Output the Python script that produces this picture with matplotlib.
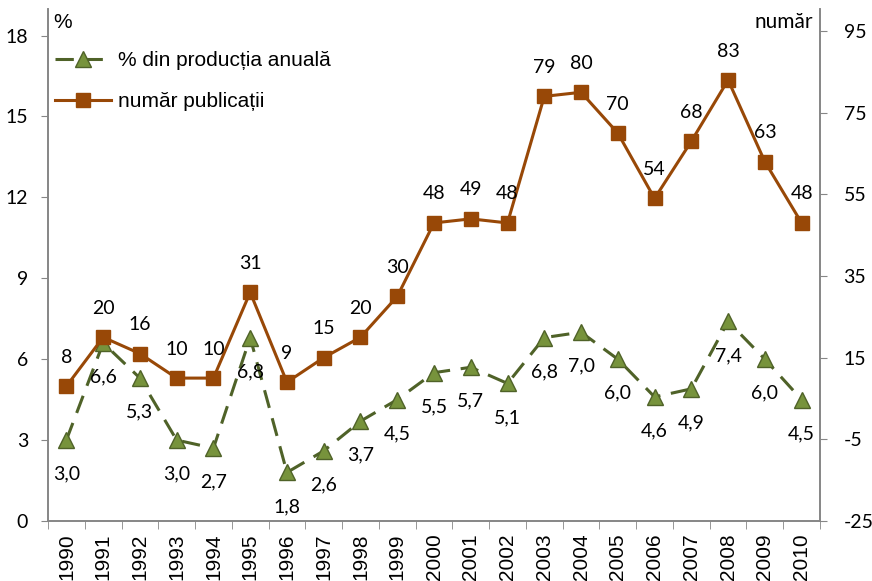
import matplotlib
matplotlib.use("Agg")
import matplotlib.pyplot as plt
from matplotlib.ticker import FixedLocator

ani = [str(a) for a in range(1990, 2011)]
procent = [3.0, 6.6, 5.3, 3.0, 2.7, 6.8, 1.8, 2.6, 3.7, 4.5, 5.5,
           5.7, 5.1, 6.8, 7.0, 6.0, 4.6, 4.9, 7.4, 6.0, 4.5]
publicatii = [8, 20, 16, 10, 10, 31, 9, 15, 20, 30, 48,
              49, 48, 79, 80, 70, 54, 68, 83, 63, 48]

plt.rcParams['axes.unicode_minus'] = False
font_num = ['Lato', 'DejaVu Sans']
font_txt = ['Liberation Sans', 'DejaVu Sans']
gri = '#868686'
verde_linie = '#4F6228'
verde = '#77933C'
maro = '#984807'

fig = plt.figure(figsize=(8.72, 5.81), dpi=100)
ax = fig.add_axes([48/872, 1-521/581, 772/872, 512/581])
ax2 = ax.twinx()

x = list(range(len(ani)))

l1, = ax.plot(x, procent, color=verde_linie, lw=2.2, dashes=(6, 3.5),
              marker='^', ms=11, mfc=verde, mec=verde_linie, mew=1,
              label='% din producția anuală')
l2, = ax2.plot(x, publicatii, color=maro, lw=2.2, marker='s', ms=10,
               mfc=maro, mec=maro, label='număr publicații')

for xi, v in zip(x, procent):
    ax.annotate(f"{v:.1f}".replace('.', ','), (xi, v), xytext=(0, -34),
                textcoords='offset pixels', ha='center', va='center',
                fontsize=14, family=font_num)
for xi, v in zip(x, publicatii):
    ax2.annotate(str(v), (xi, v), xytext=(0, 29),
                 textcoords='offset pixels', ha='center', va='center',
                 fontsize=14, family=font_num)

ax.set_xlim(-0.5, len(ani) - 0.5)
ax.set_ylim(0, 512/26.97)
ax2.set_ylim(-25, -25 + 512/4.083)
ax.set_yticks([0, 3, 6, 9, 12, 15, 18])
ax2.set_yticks([-25, -5, 15, 35, 55, 75, 95])

ax.set_xticks(x)
ax.set_xticklabels(ani, rotation=90, family=font_txt, fontsize=15)
ax.xaxis.set_minor_locator(FixedLocator([i - 0.5 for i in range(len(ani) + 1)]))
ax.tick_params(axis='x', which='major', length=0, pad=9)
ax.tick_params(axis='x', which='minor', length=6, color=gri, direction='out')
ax.tick_params(axis='y', length=5, color=gri, pad=9.4)
ax2.tick_params(axis='y', length=5, color=gri, pad=12)
for lab in ax.get_yticklabels() + ax2.get_yticklabels():
    lab.set_family(font_num)
    lab.set_fontsize(14)

for a in (ax, ax2):
    a.spines['top'].set_visible(False)
    for s in ('left', 'right', 'bottom'):
        a.spines[s].set_color(gri)
        a.spines[s].set_linewidth(1.2)

fig.text(53/872, 1-22/581, '%', fontsize=15, family=font_txt, va='center')
fig.text(813/872, 1-22/581, 'număr', fontsize=15, family=font_num,
         va='center', ha='right')

ax.legend(handles=[l1, l2], loc='upper left', bbox_to_anchor=(0.009, 0.918),
          frameon=False, borderpad=0, borderaxespad=0, handlelength=2.7,
          handletextpad=0.35, labelspacing=1.05,
          prop={'family': font_txt, 'size': 15})

fig.savefig('out.png', dpi=100)
